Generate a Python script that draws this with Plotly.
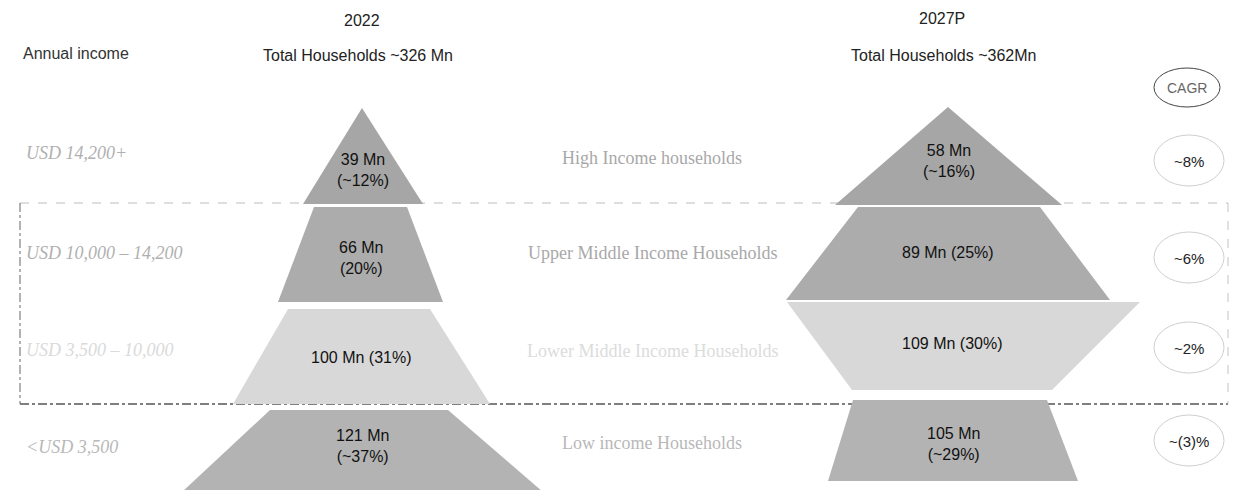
import plotly.graph_objects as go

# ---- data ----
segments = ["High Income households", "Upper Middle Income Households",
            "Lower Middle Income Households", "Low income Households"]
income_bands = ["USD 14,200+", "USD 10,000 \u2013 14,200", "USD 3,500 \u2013 10,000", "<USD 3,500"]
hh_2022 = [39, 66, 100, 121]
share_2022 = ["~12%", "20%", "31%", "~37%"]
hh_2027 = [58, 89, 109, 105]
share_2027 = ["~16%", "25%", "30%", "~29%"]
cagr = ["~8%", "~6%", "~2%", "~(3)%"]
total_2022 = 326
total_2027 = 362

# ---- layout of the two pyramids (pixel canvas, y grows downward) ----
# each tier: (y_top, y_bottom, top_left, top_right, bottom_left, bottom_right)
tiers_2022 = [
    (108, 204, 362, 362, 303, 423),
    (207, 302, 314, 407, 278, 443),
    (309, 404, 288, 430, 233, 490),
    (410, 492, 270, 448, 182, 543),
]
tiers_2027 = [
    (107, 205, 948, 948, 835, 1062),
    (207, 300, 858, 1040, 786, 1110),
    (302, 390, 787, 1140, 852, 1052),
    (400, 481, 853, 1047, 828, 1078),
]
fills = ["#a6a6a6", "#acacac", "#d8d8d8", "#b3b3b3"]
label_two_lines_2022 = [True, True, False, True]
label_two_lines_2027 = [True, False, False, True]
label_y_2022 = [170, 258, 357, 446]
label_y_2027 = [161, 252, 343, 444]
band_y = [153, 253, 350, 447]
seg_y = [158, 253, 351, 443]
seg_colors = ["#a8a8a8", "#a8a8a8", "#dcdcdc", "#b8b8b8"]
band_colors = ["#b0b0b0", "#b0b0b0", "#dadada", "#b8b8b8"]
cagr_y = [161, 258, 348, 441]

W, H = 1235, 490
fig = go.Figure()

def add_tiers(tiers, values, shares, two_lines, label_ys):
    for i, (yt, yb, tl, tr, bl, br) in enumerate(tiers):
        fig.add_trace(go.Scatter(
            x=[tl, tr, br, bl, tl], y=[yt, yt, yb, yb, yt],
            mode="lines", fill="toself", fillcolor=fills[i],
            line=dict(width=0), hoverinfo="skip", showlegend=False))
        cx = (bl + br) / 2
        sep = "<br>" if two_lines[i] else " "
        fig.add_annotation(x=cx, y=label_ys[i], text=f"{values[i]} Mn{sep}({shares[i]})",
                           showarrow=False, font=dict(size=16, color="#111111"),
                           align="center")

# dashed band around the two middle-income tiers
fig.add_shape(type="line", x0=20, x1=1228, y0=203, y1=203, xref="x", yref="y",
              line=dict(color="#bdbdbd", width=1, dash="dash"), layer="below")
fig.add_shape(type="line", x0=20, x1=1228, y0=404, y1=404, xref="x", yref="y",
              line=dict(color="#555555", width=1.3, dash="dashdot"), layer="below")
fig.add_shape(type="line", x0=20, x1=20, y0=203, y1=404, xref="x", yref="y",
              line=dict(color="#666666", width=1, dash="dashdot"), layer="below")
fig.add_shape(type="line", x0=1228, x1=1228, y0=203, y1=404, xref="x", yref="y",
              line=dict(color="#c4c4c4", width=1, dash="dash"), layer="below")

add_tiers(tiers_2022, hh_2022, share_2022, label_two_lines_2022, label_y_2022)
add_tiers(tiers_2027, hh_2027, share_2027, label_two_lines_2027, label_y_2027)

# headers
hdr = dict(size=16, color="#222")
fig.add_annotation(x=362, y=20, text="2022", showarrow=False, font=hdr)
fig.add_annotation(x=358, y=55, text=f"Total Households ~{total_2022} Mn", showarrow=False, font=hdr)
fig.add_annotation(x=942, y=18, text="2027P", showarrow=False, font=hdr)
fig.add_annotation(x=943, y=55, text=f"Total Households ~{total_2027}Mn", showarrow=False, font=hdr)
fig.add_annotation(x=21, y=53, text="Annual income", showarrow=False, xanchor="left",
                   font=dict(size=16, color="#333"))

# income bands and segment names
for i in range(4):
    fig.add_annotation(x=24, y=band_y[i], text=f"<i>{income_bands[i]}</i>", showarrow=False,
                       xanchor="left", font=dict(size=18, color=band_colors[i],
                                                 family="Liberation Serif"))
    fig.add_annotation(x=652, y=seg_y[i], text=segments[i], showarrow=False,
                       font=dict(size=18, color=seg_colors[i], family="Liberation Serif"))

# CAGR badges
fig.add_shape(type="circle", x0=1154, x1=1220, y0=68, y1=107, xref="x", yref="y",
              line=dict(color="#444444", width=1))
fig.add_annotation(x=1187, y=88, text="CAGR", showarrow=False,
                   font=dict(size=14, color="#666"))
for i in range(4):
    fig.add_shape(type="circle", x0=1154, x1=1224, y0=cagr_y[i] - 26, y1=cagr_y[i] + 25,
                  xref="x", yref="y", line=dict(color="#cfcfcf", width=1))
    fig.add_annotation(x=1189, y=cagr_y[i], text=cagr[i], showarrow=False,
                       font=dict(size=15, color="#222"))

fig.update_xaxes(range=[0, W], visible=False, fixedrange=True)
fig.update_yaxes(range=[H, 0], visible=False, fixedrange=True)
fig.update_layout(width=W, height=H, margin=dict(l=0, r=0, t=0, b=0),
                  plot_bgcolor="white", paper_bgcolor="white",
                  font=dict(family="Liberation Sans"), showlegend=False)

fig.write_html("out.html")
